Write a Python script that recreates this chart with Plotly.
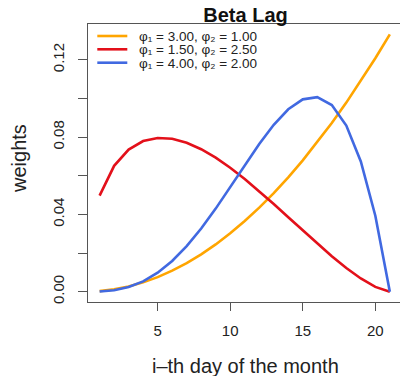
import plotly.graph_objects as go

days = list(range(1, 22))

orange_w = [0.00030, 0.00121, 0.00272, 0.00483, 0.00755, 0.01087, 0.01480, 0.01933,
            0.02446, 0.03020, 0.03655, 0.04349, 0.05104, 0.05920, 0.06796, 0.07732,
            0.08728, 0.09786, 0.10903, 0.12081, 0.13319]
red_w = [0.04973, 0.06513, 0.07355, 0.07795, 0.07957, 0.07913, 0.07706, 0.07372,
         0.06934, 0.06415, 0.05832, 0.05201, 0.04536, 0.03853, 0.03165, 0.02487,
         0.01834, 0.01226, 0.00686, 0.00249, 0.0]
blue_w = [0.00010, 0.00075, 0.00239, 0.00535, 0.00983, 0.01593, 0.02361, 0.03272,
          0.04300, 0.05407, 0.06543, 0.07645, 0.08640, 0.09442, 0.09954, 0.10067,
          0.09660, 0.08600, 0.06743, 0.03933, 0.0]

names = ["φ\u2081 = 3.00, φ\u2082 = 1.00",
         "φ\u2081 = 1.50, φ\u2082 = 2.50",
         "φ\u2081 = 4.00, φ\u2082 = 2.00"]
colors = ["#FFA500", "#E3101A", "#4169E1"]

y_tickvals = [0.00, 0.02, 0.04, 0.06, 0.08, 0.10, 0.12]
y_ticktext = ["0.00", "", "0.04", "", "0.08", "", "0.12"]
x_tickvals = [5, 10, 15, 20]

FONT = "Liberation Sans, Arial, sans-serif"
AX = "#555555"
TXT = "#222222"

# plot-area geometry in pixels
L, R, T, B = 88, 400, 24, 302
PW, PH = R - L, B - T


def px(xp):
    return (xp - L) / PW


def py(yp):
    return (B - yp) / PH


fig = go.Figure()
for ys, nm, c in zip([orange_w, red_w, blue_w], names, colors):
    fig.add_trace(go.Scatter(x=days, y=ys, mode="lines", name=nm,
                             line=dict(color=c, width=2.6), showlegend=False))

shapes = []
annotations = []
# legend (top-left, no box)
leg_y = [36.0, 49.3, 62.7]
for nm, c, ly in zip(names, colors, leg_y):
    shapes.append(dict(type="line", xref="paper", yref="paper",
                       x0=px(97.3), x1=px(127.3), y0=py(ly), y1=py(ly),
                       line=dict(color=c, width=2.6)))
    annotations.append(dict(text=nm, xref="paper", yref="paper", x=px(137.5),
                            y=py(ly + 0.3), xanchor="left", yanchor="middle",
                            borderpad=0, showarrow=False,
                            font=dict(size=13.5, color=TXT)))

annotations.append(dict(text="i\u2013th day of the month", xref="paper", yref="paper",
                        x=px(245), y=py(366), xanchor="center", yanchor="middle",
                        showarrow=False, font=dict(size=20, color=TXT)))
annotations.append(dict(text="weights", textangle=-90, xref="paper", yref="paper",
                        x=px(19), y=py(159), xanchor="center", yanchor="middle",
                        showarrow=False, font=dict(size=20, color=TXT)))

fig.update_layout(
    width=400, height=376,
    margin=dict(l=L, r=400 - R, t=T, b=376 - B, pad=0),
    paper_bgcolor="white", plot_bgcolor="white",
    font=dict(family=FONT, color=TXT),
    title=dict(text="<b>Beta Lag</b>", font=dict(size=20, color="#111111"),
               x=px(245.5), xref="paper", xanchor="center",
               y=1 - 14.7 / 376, yref="container", yanchor="middle"),
    showlegend=False,
    xaxis=dict(range=[0.2, 21.7], tickvals=x_tickvals, showgrid=False, zeroline=False,
               showline=True, linecolor=AX, linewidth=1.2, mirror=True,
               ticks="outside", ticklen=8, tickcolor=AX, tickwidth=1.2,
               ticklabelstandoff=7,
               tickfont=dict(size=15, color=TXT)),
    yaxis=dict(range=[-0.00533, 0.13853], tickvals=y_tickvals, ticktext=y_ticktext,
               showgrid=False, zeroline=False,
               showline=True, linecolor=AX, linewidth=1.2, mirror=False,
               ticks="outside", ticklen=9, tickcolor=AX, tickwidth=1.2,
               ticklabelstandoff=8,
               tickangle=-90, tickfont=dict(size=15, color=TXT)),
    shapes=shapes,
    annotations=annotations,
)

fig.write_html("out.html", config={"displayModeBar": False},
               post_script="document.body.style.margin='0';")
